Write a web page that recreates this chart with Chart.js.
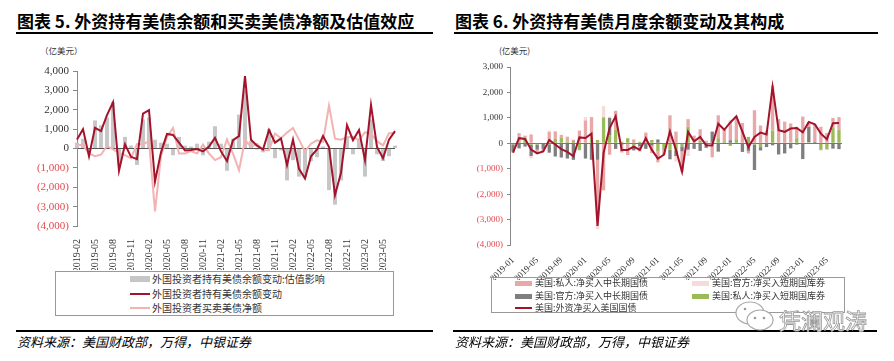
<!DOCTYPE html>
<html><head><meta charset="utf-8">
<script src="https://cdn.jsdelivr.net/npm/chart.js@4.4.0/dist/chart.umd.min.js"></script>
<style>
html,body{margin:0;padding:0;background:#fff;width:894px;height:361px;overflow:hidden;position:relative;font-family:"Noto Sans CJK SC",sans-serif;}
.abs{position:absolute;}
.title{font-size:17px;font-weight:700;color:#000;white-space:nowrap;line-height:20px;}
.rule{height:2px;background:#000;}
.unit{font-size:8.5px;color:#333;white-space:nowrap;line-height:10px;}
.src{font-size:13px;font-style:italic;color:#000;white-space:nowrap;line-height:14px;}
.legend{border:1px solid #999;box-sizing:border-box;}
.lt{position:absolute;color:#333;white-space:nowrap;line-height:12px;}
.sw{position:absolute;}
canvas{position:absolute;}
</style></head><body>

<div class="abs title" style="left:17px;top:11px;">图表 5. 外资持有美债余额和买卖美债净额及估值效应</div>
<div class="abs rule" style="left:16px;top:32px;width:417px;"></div>
<div class="abs unit" style="left:40px;top:45px;">（亿美元）</div>

<div class="abs title" style="left:455px;top:11px;">图表 6. 外资持有美债月度余额变动及其构成</div>
<div class="abs rule" style="left:454px;top:32px;width:424px;"></div>
<div class="abs unit" style="left:499px;top:45px;">(亿美元)</div>

<canvas id="c1" width="412" height="214" style="left:0px;top:56px;"></canvas>
<canvas id="c2" width="410" height="230" style="left:447px;top:50px;"></canvas>

<!-- left legend -->
<div class="abs legend" style="left:55px;top:271px;width:339px;height:45px;"></div>
<div class="sw" style="left:130px;top:276px;width:20px;height:6px;background:#C6C6C6;"></div>
<div class="lt" style="left:152px;top:273px;font-size:10px;">外国投资者持有美债余额变动:估值影响</div>
<div class="sw" style="left:130px;top:293px;width:20px;height:2px;background:#A3132B;"></div>
<div class="lt" style="left:152px;top:288px;font-size:10px;">外国投资者持有美债余额变动</div>
<div class="sw" style="left:130px;top:307px;width:20px;height:2px;background:#F2B3B3;"></div>
<div class="lt" style="left:152px;top:302px;font-size:10px;">外国投资者买卖美债净额</div>

<!-- right legend -->
<div class="abs legend" style="left:491px;top:277px;width:354px;height:36px;"></div>
<div class="sw" style="left:515px;top:281px;width:17px;height:5px;background:#E8A8A8;"></div>
<div class="lt" style="left:535px;top:277px;font-size:9px;">美国:私人:净买入中长期国债</div>
<div class="sw" style="left:692px;top:281px;width:17px;height:5px;background:#F7DADA;"></div>
<div class="lt" style="left:712px;top:277px;font-size:9px;">美国:官方:净买入短期国库券</div>
<div class="sw" style="left:515px;top:294px;width:17px;height:5px;background:#7F7F7F;"></div>
<div class="lt" style="left:535px;top:290px;font-size:9px;">美国:官方:净买入中长期国债</div>
<div class="sw" style="left:692px;top:294px;width:17px;height:5px;background:#9BBB59;"></div>
<div class="lt" style="left:712px;top:290px;font-size:9px;">美国:私人:净买入短期国库券</div>
<div class="sw" style="left:515px;top:307px;width:17px;height:2px;background:#A3132B;"></div>
<div class="lt" style="left:535px;top:302px;font-size:9px;">美国:外资净买入美国国债</div>

<!-- source lines -->
<div class="abs" style="left:16px;top:330px;width:417px;height:1.5px;background:#000;"></div>
<div class="abs src" style="left:17px;top:335px;">资料来源：美国财政部，万得，中银证券</div>
<div class="abs" style="left:453px;top:330px;width:424px;height:1.5px;background:#000;"></div>
<div class="abs src" style="left:455px;top:335px;">资料来源：美国财政部，万得，中银证券</div>

<!-- watermark -->
<svg class="abs" style="left:733px;top:298px;" width="46" height="38">
  <ellipse cx="17" cy="15" rx="14" ry="11" fill="#fff" stroke="#aaa" stroke-width="1.2"/>
  <ellipse cx="27" cy="22" rx="13" ry="10" fill="#fff" stroke="#aaa" stroke-width="1.2"/>
  <circle cx="22" cy="20" r="1.3" fill="#999"/><circle cx="31" cy="20" r="1.3" fill="#999"/>
  <circle cx="12" cy="11" r="1.3" fill="#999"/>
</svg>
<div class="abs" style="left:779px;top:306px;font-size:22px;line-height:26px;color:#fff;-webkit-text-stroke:0.8px #999;white-space:nowrap;">凭澜观涛</div>

<script>
const months = ['2019-01','2019-02','2019-03','2019-04','2019-05','2019-06','2019-07','2019-08','2019-09','2019-10','2019-11','2019-12',
'2020-01','2020-02','2020-03','2020-04','2020-05','2020-06','2020-07','2020-08','2020-09','2020-10','2020-11','2020-12',
'2021-01','2021-02','2021-03','2021-04','2021-05','2021-06','2021-07','2021-08','2021-09','2021-10','2021-11','2021-12',
'2022-01','2022-02','2022-03','2022-04','2022-05','2022-06','2022-07','2022-08','2022-09','2022-10','2022-11','2022-12',
'2023-01','2023-02','2023-03','2023-04','2023-05','2023-06','2023-07'];
const leftMonths = months.slice(1);
const leftTicks = ['2019-02','2019-05','2019-08','2019-11','2020-02','2020-05','2020-08','2020-11','2021-02','2021-05','2021-08','2021-11','2022-02','2022-05','2022-08','2022-11','2023-02','2023-05'];
const rightTicks = ['2019-01','2019-05','2019-09','2020-01','2020-05','2020-09','2021-01','2021-05','2021-09','2022-01','2022-05','2022-09','2023-01','2023-05'];

// 外资净买入美国国债 (2019-01 .. 2023-07)
const netPurchase = [-370,200,170,-250,-400,-320,130,-50,-230,-340,-510,230,
210,380,-3250,-380,600,1060,-260,-260,-130,-260,200,-260,
-600,-450,470,-260,-1120,450,80,250,-80,-90,770,530,
820,1060,460,-150,250,420,350,2220,510,450,580,600,
430,840,750,380,160,790,800];

// 外国投资者持有美债余额变动 (2019-02 .. 2023-07)
const holdingChange = [470,1000,-400,1070,900,1720,2380,-1150,220,-430,-550,
1800,1980,-1700,-200,750,700,300,-100,-80,-30,-150,100,
550,-150,-650,430,640,3740,450,150,-50,950,300,520,
-850,460,-1050,-1550,-400,-50,650,80,-2400,-1250,1200,430,
950,-600,2250,80,-500,450,900];

// 余额变动:估值影响 (2019-02 .. 2023-07)
const valuationEffect = [300,500,-150,1450,1200,1600,2400,-800,600,150,-850,
1500,1600,450,300,250,-350,600,150,100,250,-350,350,
1150,250,-1150,500,1750,3000,400,-50,-200,1000,-500,-100,
-1650,-600,-1450,-1500,-650,-450,100,-2150,-2900,-1650,600,-300,
450,-1450,1500,-300,-650,-400,150];

// 构成 (2019-01 .. 2023-07)
const privLongTerm = [-50,350,100,350,-150,-100,450,300,100,200,50,500,
900,900,-2230,-1850,-450,750,-300,-450,150,-200,420,-300,
-450,-200,1100,460,-800,300,300,450,100,-550,900,450,
700,900,800,-100,1300,700,500,1750,950,850,750,450,
1050,200,700,650,400,400,500];
const offBills = [0,0,0,-100,0,0,50,0,0,0,0,0,
130,0,-500,450,50,0,50,0,0,0,0,0,
0,0,0,-220,0,-250,0,0,0,0,0,0,
100,0,0,0,0,0,0,50,0,0,0,0,
0,0,0,0,0,0,0];
const offLongTerm = [-280,-200,-130,-450,-200,-200,-330,-520,-560,-600,-650,-10,
-600,-650,-650,0,700,-220,-60,-10,-200,-120,-220,-90,
150,-50,-380,-200,-200,-250,-200,-300,-180,460,-330,0,
120,0,-340,-300,-1000,-130,-150,-80,-440,-400,-200,-50,
-620,600,50,-20,-40,-210,-230];
const privBills = [-40,50,200,-50,-50,-20,-40,170,230,60,90,-260,
0,130,130,1020,300,530,50,200,-80,60,0,130,
-300,-200,-250,-300,-120,650,-20,100,0,0,200,80,
-100,160,0,250,-50,-150,0,500,0,0,30,200,
0,40,0,-250,-200,600,530];

function fmt(v){const a=String(Math.abs(Math.round(v))).replace(/\B(?=(\d{3})+(?!\d))/g,',');return v<0?'('+a+')':a;}
const serif='"Liberation Serif","Times New Roman",serif';
const negColor='#E5484D', posColor='#333';

new Chart(document.getElementById('c1'),{
  type:'bar',
  data:{labels:leftMonths,datasets:[
    {type:'line',label:'外国投资者持有美债余额变动',data:holdingChange,borderColor:'#A3132B',borderWidth:2,pointRadius:0,tension:0,order:0},
    {type:'line',label:'外国投资者买卖美债净额',data:netPurchase.slice(1),borderColor:'#F2B3B3',borderWidth:2,pointRadius:0,tension:0,order:1},
    {type:'bar',label:'外国投资者持有美债余额变动:估值影响',data:valuationEffect,backgroundColor:'#C6C6C6',barPercentage:0.65,categoryPercentage:1,order:2,clip:false}
  ]},
  options:{
    responsive:false,animation:false,devicePixelRatio:1,
    layout:{padding:{top:15,right:13,bottom:0,left:0}},
    plugins:{legend:{display:false},tooltip:{enabled:false}},
    scales:{
      x:{offset:false,grid:{display:false},border:{display:false},
        ticks:{autoSkip:false,minRotation:90,maxRotation:90,padding:5,color:'#333',font:{family:serif,size:10},
          callback:function(v){const l=this.getLabelForValue(v);return leftTicks.includes(l)?l:'';}},
        afterFit:function(s){s.height=44;}},
      y:{min:-4000,max:4000,
        grid:{drawOnChartArea:true,color:c=>(c.tick&&c.tick.value===0)?'#555':'rgba(0,0,0,0)',tickColor:'#888',tickLength:4,lineWidth:1},
        border:{display:true,color:'#888',width:1},
        ticks:{stepSize:1000,padding:4,font:{family:serif,size:11},color:c=>(c.tick&&c.tick.value<0)?negColor:posColor,callback:v=>fmt(v)},
        afterFit:function(s){s.width=77;}}
    }
  }
});

new Chart(document.getElementById('c2'),{
  type:'bar',
  data:{labels:months,datasets:[
    {type:'line',label:'美国:外资净买入美国国债',data:netPurchase,borderColor:'#A3132B',borderWidth:2,pointRadius:0,tension:0,order:0,stack:'line'},
    {label:'美国:私人:净买入短期国库券',data:privBills,backgroundColor:'#9BBB59',stack:'s',order:1,barPercentage:0.55,categoryPercentage:1},
    {label:'美国:官方:净买入中长期国债',data:offLongTerm,backgroundColor:'#7F7F7F',stack:'s',order:1,barPercentage:0.55,categoryPercentage:1},
    {label:'美国:私人:净买入中长期国债',data:privLongTerm,backgroundColor:'#E8A8A8',stack:'s',order:1,barPercentage:0.55,categoryPercentage:1},
    {label:'美国:官方:净买入短期国库券',data:offBills,backgroundColor:'#F7DADA',stack:'s',order:1,barPercentage:0.55,categoryPercentage:1}
  ]},
  options:{
    responsive:false,animation:false,devicePixelRatio:1,
    layout:{padding:{top:17,right:15,bottom:0,left:0}},
    plugins:{legend:{display:false},tooltip:{enabled:false}},
    scales:{
      x:{stacked:true,offset:true,grid:{display:false},border:{display:false},
        ticks:{autoSkip:false,minRotation:45,maxRotation:45,padding:2,color:'#333',font:{family:serif,size:9},
          callback:function(v){const l=this.getLabelForValue(v);return rightTicks.includes(l)?l:'';}},
        afterFit:function(s){s.height=35;}},
      y:{stacked:true,min:-4000,max:3000,
        grid:{drawOnChartArea:true,color:c=>(c.tick&&c.tick.value===0)?'#777':'rgba(0,0,0,0)',tickColor:'#888',tickLength:3,lineWidth:1},
        border:{display:true,color:'#888',width:1},
        ticks:{stepSize:1000,padding:4,font:{family:serif,size:9},color:c=>(c.tick&&c.tick.value<0)?negColor:posColor,callback:v=>fmt(v)},
        afterFit:function(s){s.width=63;}}
    }
  }
});
</script>
</body></html>
